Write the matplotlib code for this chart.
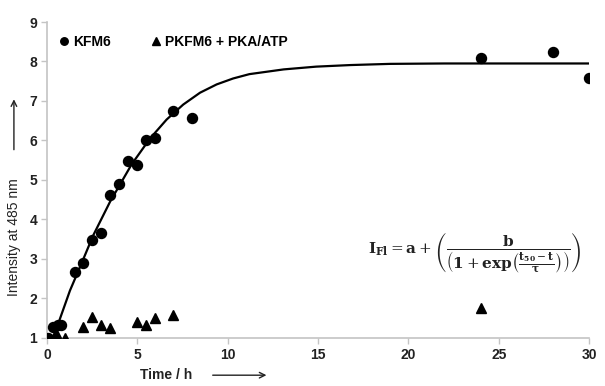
import matplotlib
matplotlib.use('Agg')
import matplotlib.pyplot as plt
from matplotlib.patches import FancyArrowPatch

plt.rcParams['font.family'] = ['Liberation Sans', 'DejaVu Sans']
plt.rcParams['mathtext.fontset'] = 'dejavuserif'

# KFM6 measurements
kfm6_t = [0.07, 0.35, 0.6, 0.75, 1.55, 2.0, 2.5, 3.0, 3.5, 4.0, 4.5, 5.0, 5.5, 6.0, 7.0, 8.0, 24.0, 28.0, 30.0]
kfm6_i = [1.0, 1.29, 1.33, 1.34, 2.68, 2.91, 3.47, 3.67, 4.61, 4.91, 5.49, 5.39, 6.02, 6.06, 6.74, 6.58, 8.08, 8.24, 7.57]

# PKFM6 + PKA/ATP measurements
pk_t = [0.5, 1.0, 2.0, 2.5, 3.0, 3.5, 5.0, 5.5, 6.0, 7.0, 24.0]
pk_i = [1.12, 1.0, 1.29, 1.53, 1.33, 1.25, 1.4, 1.33, 1.5, 1.58, 1.77]

# fitted curve
fit_t = [0.44, 1.27, 1.83, 2.56, 3.49, 4.69, 5.70, 6.62, 7.54, 8.47, 9.39, 10.3, 11.2, 13.1, 14.9, 16.8, 19.0, 22.0, 30.0]
fit_i = [1.13, 2.2, 2.8, 3.6, 4.45, 5.4, 6.05, 6.53, 6.91, 7.21, 7.42, 7.57, 7.68, 7.80, 7.87, 7.91, 7.94, 7.95, 7.95]

xticks = [0, 5, 10, 15, 20, 25, 30]
yticks = [1, 2, 3, 4, 5, 6, 7, 8, 9]

gray = '#c4c4c4'
ink = '#222222'

fig = plt.figure(figsize=(6.05, 3.86), dpi=100)
ax = fig.add_axes([0.0777, 0.1244, 0.8959, 0.8186])

ax.plot(fit_t, fit_i, color='black', lw=1.6, zorder=2, solid_joinstyle='round')
ax.plot(kfm6_t, kfm6_i, 'o', color='black', ms=7.2, ls='none', label='KFM6', zorder=3)
ax.plot(pk_t, pk_i, '^', color='black', ms=7, ls='none', label='PKFM6 + PKA/ATP', zorder=3)

ax.set_xlim(0, 30)
ax.set_ylim(1, 9)
ax.set_xticks(xticks)
ax.set_yticks(yticks)
for s in ['top', 'right']:
    ax.spines[s].set_visible(False)
for s in ['left', 'bottom']:
    ax.spines[s].set_color(gray)
    ax.spines[s].set_linewidth(1.2)
ax.tick_params(axis='both', direction='out', length=4, width=1, color=gray, labelsize=10, pad=3)
for lab in ax.get_xticklabels() + ax.get_yticklabels():
    lab.set_fontweight('bold')
    lab.set_color(ink)

ax.legend(loc='upper left', ncol=2, frameon=False, markerscale=0.75,
          handlelength=0.6, handletextpad=0.35, columnspacing=3.0,
          bbox_to_anchor=(0.0, 1.0), prop={'weight': 'bold', 'size': 10})

# axis labels with arrows
fig.text(0.023, 0.385, 'Intensity at 485 nm', rotation=90, ha='center', va='center',
         fontsize=10, color=ink)
fig.patches.append(FancyArrowPatch((0.023, 0.605), (0.023, 0.75), transform=fig.transFigure,
                                   arrowstyle='->', mutation_scale=10, lw=1, color=ink))
fig.text(0.275, 0.028, 'Time / h', ha='center', va='center', fontsize=10,
         fontweight='bold', color=ink)
fig.patches.append(FancyArrowPatch((0.347, 0.028), (0.445, 0.028), transform=fig.transFigure,
                                   arrowstyle='->', mutation_scale=10, lw=1, color=ink))

eq = (r'$\mathbf{I}_{\mathbf{Fl}} = \mathbf{a} + \left(\dfrac{\mathbf{b}}'
      r'{\left(\mathbf{1} + \mathbf{exp}\left(\frac{\mathbf{t}_{\mathbf{50}} - \mathbf{t}}{\mathbf{\tau}}\right)\right)}\right)$')
ax.text(0.592, 0.27, eq, transform=ax.transAxes, ha='left', va='center', fontsize=11,
        color=ink)

fig.savefig('out.png', dpi=100)
